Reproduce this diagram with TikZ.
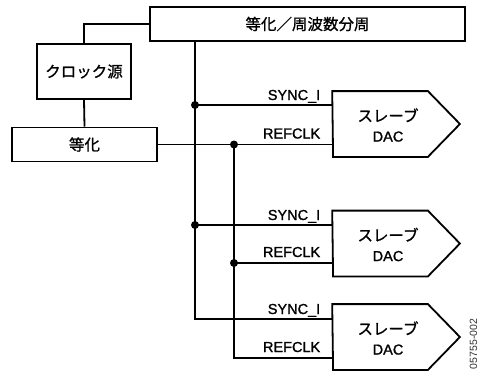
\documentclass[tikz,border=0pt]{standalone}
\usepackage{fontspec}
\setmainfont{Liberation Sans}[BoldFont={Liberation Sans}, BoldFeatures={FakeBold=1.3}]
\newfontfamily\jp{Noto Sans CJK JP}[BoldFont={Noto Sans CJK JP}, BoldFeatures={FakeBold=1.0}]
\begin{document}
\begin{tikzpicture}[x=1pt,y=-1pt,
  line width=1.8pt,
  box/.style={draw, rectangle, inner sep=0pt, font=\jp\bfseries\fontsize{15.5}{17}\selectfont},
  dacbody/.style={draw=none, rectangle, inner sep=0pt, minimum width=93pt, minimum height=64pt},
  dactext/.style={align=center, inner sep=0pt, font=\bfseries\fontsize{14.5}{20}\selectfont},
  sig/.style={inner sep=0pt, font=\bfseries\fontsize{14.5}{16}\selectfont},
  dot/.style={circle, fill, inner sep=0pt, minimum size=8pt}]
\useasboundingbox (0,0) rectangle (478,372);
% boxes
\node[box, minimum width=315pt, minimum height=34pt] (top) at (307.5,24) {等化／周波数分周};
\node[box, minimum width=94pt, minimum height=55pt] (clk) at (84,71.5) {クロック源};
\node[box, minimum width=145pt, minimum height=34pt] (eq) at (84.5,144.5) {等化};
% DAC bodies
\foreach \n/\y in {1/124, 2/243.5, 3/337}{
  \node[dacbody] (d\n) at (380.5,\y) {};
  \draw ([xshift=-0.9pt]d\n.north west) -- (d\n.north east) -- ([xshift=32pt]d\n.east) -- (d\n.south east) -- (d\n.south west) -- cycle;
  \node[dactext] (t\n) at ([xshift=7.5pt,yshift=-1pt]d\n.center) {{\jp\bfseries\fontsize{15.5}{17}\selectfont スレーブ}\\DAC};
}
% junctions
\node[dot] (s1) at (195,105) {};
\node[dot] (s2) at (195,225) {};
\coordinate (s3) at (195,319);
\node[dot] (r1) at (234,144.5) {};
\node[dot] (r2) at (234,263) {};
\coordinate (r3) at (234,358);
% connectors
\draw (top.west) -| (clk.north);
\draw (clk.south) -- (eq.north);
\draw (eq.east) -- (r1.center);
\draw (top.south -| s1) -- (s3) -- (s3 -| d3.west);
\draw (r1.center) -- (r3) -- (r3 -| d3.west);
\draw (s1.center) -- (s1 -| d1.west);
\draw (s2.center) -- (s2 -| d2.west);
\draw (r1.center) -- (r1 -| d1.west);
\draw (r2.center) -- (r2 -| d2.west);
% labels
\foreach \p/\d in {s1/d1, s2/d2, s3/d3}{
  \node[sig, anchor=base east] at ([xshift=-12pt,yshift=5pt]\p -| \d.west) {SYNC\_I};
}
\foreach \p/\d in {r1/d1, r2/d2, r3/d3}{
  \node[sig, anchor=base east] at ([xshift=-12pt,yshift=6pt]\p -| \d.west) {REFCLK};
}
\node[rotate=90, inner sep=0pt, text=black!80, font=\fontsize{10.5}{11}\selectfont] (fig) at (473.5,344) {05755-002};
\end{tikzpicture}
\end{document}
